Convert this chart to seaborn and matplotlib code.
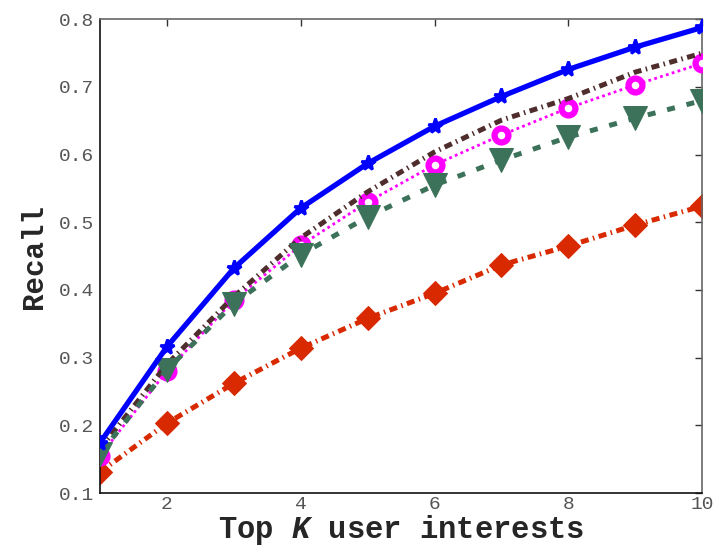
import matplotlib
matplotlib.use('Agg')
import matplotlib.pyplot as plt
import seaborn as sns

# Recall at top-K
k = [1, 2, 3, 4, 5, 6, 7, 8, 9, 10]
recall_blue = [0.174, 0.316, 0.432, 0.521, 0.587, 0.642, 0.686, 0.726, 0.759, 0.788]
recall_brown = [0.165, 0.290, 0.390, 0.477, 0.545, 0.604, 0.651, 0.683, 0.722, 0.750]
recall_magenta = [0.155, 0.280, 0.385, 0.466, 0.530, 0.585, 0.629, 0.669, 0.703, 0.735]
recall_green = [0.158, 0.282, 0.380, 0.452, 0.508, 0.555, 0.592, 0.626, 0.654, 0.680]
recall_red = [0.131, 0.203, 0.262, 0.314, 0.358, 0.395, 0.437, 0.465, 0.496, 0.524]

sns.set_style('white')
plt.rcParams['font.family'] = ['Liberation Mono', 'DejaVu Sans Mono']
plt.rcParams['mathtext.fontset'] = 'custom'
plt.rcParams['mathtext.it'] = 'Liberation Mono:italic:bold'
plt.rcParams['mathtext.rm'] = 'Liberation Mono:bold'

fig = plt.figure(figsize=(7.24, 5.47), dpi=100)
ax = fig.add_axes([0.138, 0.0987, 0.832, 0.866])

sns.lineplot(x=k, y=recall_red, ax=ax, color='#d92900', linewidth=3.6,
             dashes=(1.6, 0.9, 0.3, 0.9),
             marker='D', markersize=12, markeredgecolor='#d92900', zorder=2)
sns.lineplot(x=k, y=recall_magenta, ax=ax, color='#ff00ff', linewidth=2,
             dashes=(1.0, 1.2),
             marker='o', markersize=10, markerfacecolor='white', markeredgecolor='#ff00ff',
             markeredgewidth=4.5, zorder=3)
sns.lineplot(x=k, y=recall_brown, ax=ax, color='#4f2d2d', linewidth=3.6,
             dashes=(1.6, 0.9, 0.3, 0.9), zorder=4)
sns.lineplot(x=k, y=recall_green, ax=ax, color='#3c7259', linewidth=3.6,
             dashes=(1.6, 2.4),
             marker='v', markersize=17, markeredgecolor='#3c7259', zorder=5)
sns.lineplot(x=k, y=recall_blue, ax=ax, color='#0000ff', linestyle='-', linewidth=3.8,
             marker='*', markersize=11, markeredgecolor='#0000ff', markeredgewidth=2, zorder=6)

ax.set_xlim(1, 10)
ax.set_ylim(0.1, 0.8)
ax.set_xticks([2, 4, 6, 8, 10])
ax.set_yticks([0.1, 0.2, 0.3, 0.4, 0.5, 0.6, 0.7, 0.8])
ax.set_yticklabels(['0.1', '0.2', '0.3', '0.4', '0.5', '0.6', '0.7', '0.8'])
ax.tick_params(direction='in', length=5, width=1, top=True, right=True,
               labelsize=14, labelcolor='#555555', colors='#333333', pad=4)
ax.tick_params(axis='x', pad=2)

for side in ['top', 'right']:
    ax.spines[side].set_color('#666666')
for side in ['bottom', 'left']:
    ax.spines[side].set_color('#111111')
for sp in ax.spines.values():
    sp.set_linewidth(1.2)

ax.set_xlabel('Top $\\mathit{K}$ user interests', fontsize=22, fontweight='bold')
ax.xaxis.set_label_coords(0.5, -0.113)
ax.xaxis.label.set_va('bottom')
ax.set_ylabel('Recall', fontsize=21, fontweight='bold', labelpad=8)

fig.savefig('out.png', dpi=100)
